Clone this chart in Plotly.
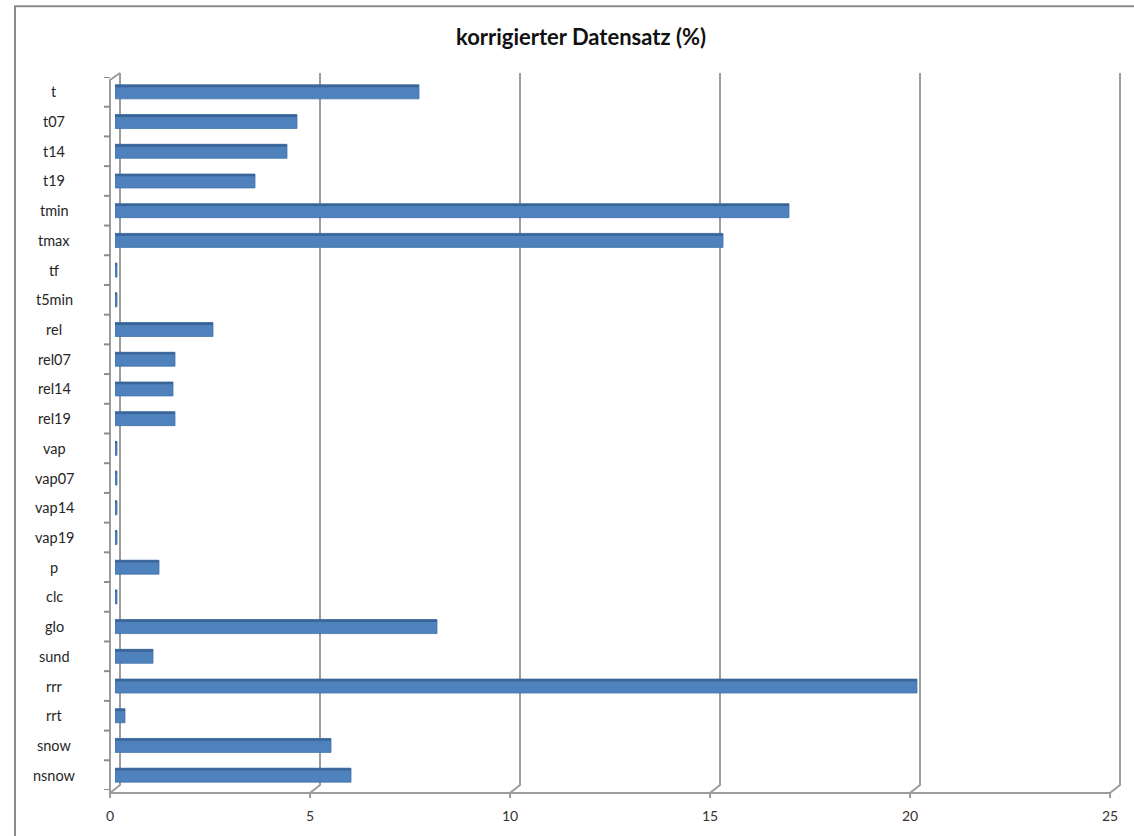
import plotly.graph_objects as go

# Anteil korrigierter Werte je Parameter (%)
categories = ["t", "t07", "t14", "t19", "tmin", "tmax", "tf", "t5min",
              "rel", "rel07", "rel14", "rel19", "vap", "vap07", "vap14", "vap19",
              "p", "clc", "glo", "sund", "rrr", "rrt", "snow", "nsnow"]
values = [7.6, 4.55, 4.3, 3.5, 16.85, 15.2, 0.05, 0.05,
          2.45, 1.5, 1.45, 1.5, 0.05, 0.05, 0.05, 0.05,
          1.1, 0.05, 8.05, 0.95, 20.05, 0.25, 5.4, 5.9]
x_ticks = [0, 5, 10, 15, 20, 25]
x_max = 25
title_text = "korrigierter Datensatz (%)"

W, H = 1134, 836
ML, MR, MT, MB = 115, 19, 77, 44
plot_w = W - ML - MR
plot_h = H - MT - MB
depth_px = 5                      # half depth of the pseudo-3D box, in pixels

def px(p):
    """pixel column -> paper x"""
    return (p - ML) / plot_w

def py(p):
    """pixel row -> paper y"""
    return (H - MB - p) / plot_h

def vx(v, shift_px=0):
    """axis value -> paper x, optionally shifted by some pixels"""
    return v / x_max + shift_px / plot_w

grid_col = "#9C9C9C"
bar_col = "#4F81BD"
edge_col = "#3A6598"

fig = go.Figure()

# front face of the bars
fig.add_trace(go.Bar(
    y=categories, x=values, orientation="h", width=0.47,
    marker=dict(color=bar_col, line=dict(color="#4373AD", width=0.8)),
    hoverinfo="x+y", showlegend=False,
))
# darker top face of each bar
fig.add_trace(go.Bar(
    y=categories, x=values, orientation="h", width=0.08, offset=-0.235,
    marker=dict(color=edge_col, line=dict(width=0)),
    hoverinfo="skip", showlegend=False,
))

shapes = []
# back-wall gridlines with their floor diagonals
for v in x_ticks:
    shapes.append(dict(type="path", xref="paper", yref="paper",
                       path=f"M {vx(v, depth_px)},{py(73)} L {vx(v, depth_px)},{py(787)} "
                            f"L {vx(v, -depth_px)},{py(795)} L {vx(v, -depth_px)},{py(800)}",
                       line=dict(color=grid_col, width=2), layer="below"))
# front floor edge
shapes.append(dict(type="line", xref="paper", yref="paper",
                   x0=vx(0, -depth_px), x1=vx(x_max, -depth_px), y0=py(795), y1=py(795),
                   line=dict(color=grid_col, width=2)))
# left wall: front edge and top diagonal
shapes.append(dict(type="path", xref="paper", yref="paper",
                   path=f"M {vx(0, -depth_px)},{py(795)} L {vx(0, -depth_px)},{py(80)} "
                        f"L {vx(0, depth_px)},{py(73)}",
                   line=dict(color=grid_col, width=2)))
# category boundary ticks on the left wall
for i in range(len(categories) + 1):
    shapes.append(dict(type="line", xref="paper", yref="y",
                       x0=px(104), x1=px(110), y0=i - 0.5, y1=i - 0.5,
                       line=dict(color="#8C8C8C", width=2)))
# chart border
shapes.append(dict(type="rect", xref="paper", yref="paper",
                   x0=px(15), x1=1.2, y0=-0.2, y1=py(6),
                   line=dict(color="#8C8C8C", width=2), layer="below"))

annotations = []
for c in categories:
    annotations.append(dict(xref="paper", yref="y", x=px(54), y=c,
                            text=c, showarrow=False, xanchor="center", yanchor="middle",
                            font=dict(family="Lato, 'Open Sans', sans-serif", size=14.5,
                                      color="#262626")))

fig.update_layout(
    width=W, height=H,
    margin=dict(l=ML, r=MR, t=MT, b=MB),
    paper_bgcolor="white", plot_bgcolor="rgba(0,0,0,0)",
    barmode="overlay",
    title=dict(text=f"<b>{title_text}</b>", x=581 / W, xref="container", xanchor="center",
               y=1 - 37 / H, yref="container", yanchor="middle",
               font=dict(family="Lato, 'Open Sans', sans-serif", size=22, color="#111111")),
    xaxis=dict(range=[0, x_max], tickvals=x_ticks, showgrid=False, zeroline=False,
               showline=False, ticks="", ticklabelshift=-5, ticklabelstandoff=16,
               tickfont=dict(family="Lato, 'Open Sans', sans-serif", size=14, color="#333333"),
               fixedrange=True),
    yaxis=dict(categoryorder="array", categoryarray=categories,
               range=[len(categories) - 0.5, -0.5], showticklabels=False,
               showgrid=False, zeroline=False, showline=False, ticks="", fixedrange=True),
    shapes=shapes, annotations=annotations,
)

fig.write_html("out.html")
